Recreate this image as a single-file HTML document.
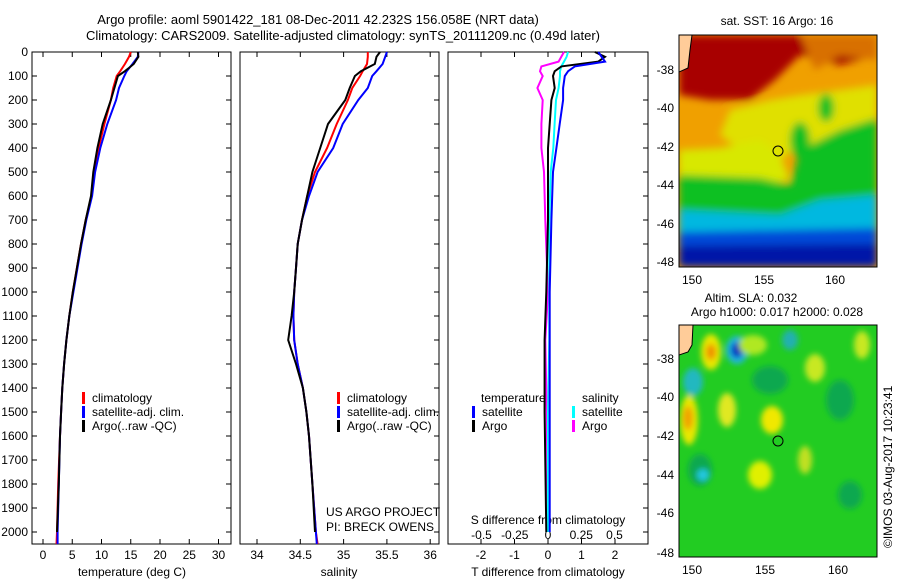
<!DOCTYPE html>
<html><head><meta charset="utf-8"><style>
body{margin:0;background:#fff}
svg text{font-family:"Liberation Sans",sans-serif;font-size:12px;fill:#000}
</style></head><body>
<svg id="s" width="900" height="580" viewBox="0 0 900 580" xmlns="http://www.w3.org/2000/svg">
<defs>
<filter id="bl" x="-20%" y="-20%" width="140%" height="140%"><feGaussianBlur stdDeviation="4"/></filter>
<filter id="bl2" x="-50%" y="-50%" width="200%" height="200%"><feGaussianBlur stdDeviation="3"/></filter>
<clipPath id="c1"><rect x="679" y="35" width="198" height="232"/></clipPath>
<clipPath id="c2"><rect x="679" y="325" width="198" height="232"/></clipPath>
</defs>
<text x="318" y="24" text-anchor="middle" style="font-size:13px">Argo profile: aoml 5901422_181 08-Dec-2011 42.232S 156.058E (NRT data)</text>
<text x="343" y="40" text-anchor="middle" style="font-size:13px">Climatology: CARS2009. Satellite-adjusted climatology: synTS_20111209.nc (0.49d later)</text>

<g>
<g clip-path="url(#c1)">
<rect x="679" y="35" width="198" height="232" fill="#f0a000"/>
<g filter="url(#bl)">
<polygon points="679,35 877,35 877,55 840,65 800,55 775,80 750,100 710,100 679,95" fill="#a80000"/>
<polygon points="800,35 877,35 877,60 840,55 815,70" fill="#d87000"/>
<polygon points="730,110 770,100 800,95 840,90 877,85 877,140 800,145 780,160 740,150 720,135" fill="#e0e000"/>
<polygon points="679,150 720,148 760,140 780,155 790,180 760,185 679,180" fill="#d8e800"/>
<polygon points="679,175 760,178 790,185 800,150 840,130 877,118 877,195 820,200 780,215 679,210" fill="#10c020"/>
<ellipse cx="800" cy="140" rx="10" ry="18" fill="#10c020"/>
<ellipse cx="826" cy="108" rx="8" ry="14" fill="#10c020"/>
<polygon points="679,210 780,215 820,200 877,195 877,232 679,232" fill="#00b8e0"/>
<polygon points="679,232 877,228 877,248 679,248" fill="#0048d8"/>
<polygon points="679,246 877,244 877,267 679,267" fill="#0018a8"/>
</g>
<polygon points="679,35 692,35 690,50 688,68 679,72" fill="#ffcc99" stroke="#000" stroke-width="1"/>
</g>
<rect x="679" y="35" width="198" height="232" fill="none" stroke="#000"/>
<circle cx="778" cy="151" r="5" fill="none" stroke="#000"/>
<text x="777" y="25" text-anchor="middle">sat. SST: 16 Argo: 16</text>
<text x="674" y="74" text-anchor="end">-38</text><text x="674" y="112" text-anchor="end">-40</text><text x="674" y="151" text-anchor="end">-42</text>
<text x="674" y="189" text-anchor="end">-44</text><text x="674" y="228" text-anchor="end">-46</text><text x="674" y="266" text-anchor="end">-48</text>
<text x="692" y="284" text-anchor="middle">150</text><text x="764" y="284" text-anchor="middle">155</text><text x="835" y="284" text-anchor="middle">160</text>
</g>

<g>
<g clip-path="url(#c2)">
<rect x="679" y="325" width="198" height="232" fill="#22cc22"/>
<g filter="url(#bl2)">
<ellipse cx="770" cy="380" rx="18" ry="14" fill="#10a850"/>
<ellipse cx="840" cy="400" rx="14" ry="20" fill="#10a850"/>
<ellipse cx="700" cy="470" rx="12" ry="16" fill="#10a850"/>
<ellipse cx="850" cy="495" rx="12" ry="14" fill="#10a850"/>
<ellipse cx="711" cy="352" rx="10" ry="18" fill="#e8e800"/>
<ellipse cx="711" cy="352" rx="5" ry="8" fill="#f09000"/>
<ellipse cx="737" cy="350" rx="11" ry="14" fill="#20b8e0"/>
<ellipse cx="737" cy="350" rx="6" ry="8" fill="#0030c0"/>
<ellipse cx="693" cy="382" rx="10" ry="14" fill="#20b8c0"/>
<ellipse cx="689" cy="420" rx="9" ry="25" fill="#e8e800"/>
<ellipse cx="688" cy="418" rx="5" ry="12" fill="#f0a000"/>
<ellipse cx="727" cy="410" rx="9" ry="17" fill="#e0e820"/>
<ellipse cx="772" cy="420" rx="11" ry="14" fill="#f0e800"/>
<ellipse cx="760" cy="475" rx="12" ry="14" fill="#e0f000"/>
<ellipse cx="805" cy="460" rx="7" ry="14" fill="#c0e020"/>
<ellipse cx="815" cy="368" rx="10" ry="14" fill="#c8e820"/>
<ellipse cx="862" cy="345" rx="8" ry="14" fill="#c8e820"/>
<ellipse cx="703" cy="475" rx="6" ry="6" fill="#20c8e0"/>
<ellipse cx="753" cy="345" rx="14" ry="10" fill="#b0e820"/>
<ellipse cx="790" cy="340" rx="8" ry="10" fill="#20b0b0"/>
</g>
<polygon points="679,325 693,325 692,345 688,352 679,355" fill="#ffcc99" stroke="#000"/>
</g>
<rect x="679" y="325" width="198" height="232" fill="none" stroke="#000"/>
<circle cx="778" cy="441" r="5" fill="none" stroke="#000"/>
<text x="751" y="302" text-anchor="middle">Altim. SLA: 0.032</text>
<text x="777" y="316" text-anchor="middle">Argo h1000: 0.017 h2000: 0.028</text>
<text x="674" y="363" text-anchor="end">-38</text><text x="674" y="401" text-anchor="end">-40</text><text x="674" y="440" text-anchor="end">-42</text>
<text x="674" y="479" text-anchor="end">-44</text><text x="674" y="517" text-anchor="end">-46</text><text x="674" y="557" text-anchor="end">-48</text>
<text x="692" y="574" text-anchor="middle">150</text><text x="765" y="574" text-anchor="middle">155</text><text x="838" y="574" text-anchor="middle">160</text>
</g>
<text transform="translate(892,548) rotate(-90)">©IMOS 03-Aug-2017 10:23:41</text>
<g id="plots"></g>
</svg>
<script>
const depths=[0,20,50,80,100,150,200,300,400,500,600,700,800,900,1000,1100,1200,1300,1400,1500,1600,1800,2000,2050];
const tClim=[15.0,14.7,14.0,13.2,12.6,12.0,11.6,10.5,9.5,8.7,8.3,7.3,6.5,5.8,5.1,4.5,4.0,3.6,3.3,3.1,2.9,2.6,2.4,2.3];
const tSat=[16.3,16.2,15.3,14.3,13.9,13.0,12.5,11.0,9.8,8.9,8.4,7.4,6.6,5.9,5.2,4.5,4.0,3.6,3.3,3.1,2.9,2.7,2.5,2.5];
const tArgo=[16.2,16.3,15.5,14.0,12.8,12.2,11.6,10.2,9.3,8.6,8.2,7.3,6.5,5.8,5.1,4.5,4.0,3.6,3.3,3.1,2.9,2.7,2.4];
const sClim=[35.28,35.28,35.27,35.22,35.19,35.1,35.05,34.92,34.81,34.67,34.58,34.52,34.47,34.45,34.43,34.42,34.43,34.47,34.53,34.57,34.6,34.64,34.68,34.7];
const sSat=[35.5,35.48,35.45,35.38,35.33,35.28,35.17,34.99,34.88,34.7,34.6,34.52,34.47,34.45,34.43,34.42,34.43,34.47,34.53,34.57,34.6,34.64,34.68,34.69];
const sArgo=[35.42,35.38,35.36,35.2,35.13,35.07,35.02,34.82,34.73,34.64,34.58,34.52,34.47,34.45,34.43,34.4,34.36,34.45,34.53,34.57,34.6,34.64,34.67];
const diffDepths=[0,20,40,60,80,100,150,200,300,400,500,700,1000,1200,1500,2000];
const tdSat=[1.5,1.6,1.7,0.8,0.6,0.5,0.45,0.45,0.35,0.25,0.15,0.1,0.05,0.05,0.05,0.05];
const tdArgo=[1.4,1.7,1.5,0.4,0.2,0.15,0.2,0.1,0.05,0,0,0,-0.05,-0.1,-0.1,-0.05];
const sdSat=[0.15,0.14,0.12,0.1,0.09,0.09,0.08,0.06,0.05,0.04,0.02,0.01,0.01,0.01,0,0];
const sdArgo=[0.12,0.1,0.08,-0.05,-0.06,-0.04,-0.08,-0.04,-0.05,-0.05,-0.03,-0.02,0,-0.02,-0.01,0];
const depthTicks=[0,100,200,300,400,500,600,700,800,900,1000,1100,1200,1300,1400,1500,1600,1700,1800,1900,2000];
const tTicks=[0,5,10,15,20,25,30];
const sTicks=[34,34.5,35,35.5,36];
const tdTicks=[-2,-1,0,1,2];
const sdTicks=[-0.5,-0.25,0,0.25,0.5];
const sdLabels=["-0.5","-0.25","0","0.25","0.5"];

const yD=d=>52+d*0.24;
const xT=t=>43+t*5.85;
const xS=s=>257+(s-34)*86.6;
const xTd=t=>548+t*33.5;
const xSd=s=>548+s*133;
const NS='http://www.w3.org/2000/svg';
const root=document.getElementById('plots');
function mk(tag,attrs,parent){const e=document.createElementNS(NS,tag);for(const k in attrs)e.setAttribute(k,attrs[k]);(parent||root).appendChild(e);return e;}
function txt(x,y,s,anchor,parent){const e=mk('text',{x:x,y:y,'text-anchor':anchor||'middle'},parent);e.textContent=s;return e;}
const TOP=52,BOT=544;
const panels=[[32,231],[240,439],[448,648]];
panels.forEach((p,i)=>{
  const r=mk('rect',{x:p[0],y:TOP,width:p[1]-p[0],height:BOT-TOP,fill:'none',stroke:'#000'});
  
  
  depthTicks.forEach(d=>{mk('line',{x1:p[1]-5,x2:p[1],y1:yD(d),y2:yD(d),stroke:'#000'});});
});
depthTicks.forEach(d=>{mk('line',{x1:32,x2:37,y1:yD(d),y2:yD(d),stroke:'#000'});txt(28,yD(d)+4,String(d),'end');});
function xticks(vals,fx,labels,ly){vals.forEach((v,i)=>{const x=fx(v);mk('line',{x1:x,x2:x,y1:BOT-5,y2:BOT,stroke:'#000'});mk('line',{x1:x,x2:x,y1:TOP,y2:TOP+5,stroke:'#000'});if(labels)txt(x,ly,labels[i]);});}
xticks(tTicks,xT,tTicks.map(String),559);
xticks(sTicks,xS,sTicks.map(String),559);
xticks(tdTicks,xTd,tdTicks.map(String),559);
sdTicks.forEach((v,i)=>txt(xSd(v),539,sdLabels[i]));
txt(132,576,'temperature (deg C)');
txt(339,576,'salinity');
txt(548,576,'T difference from climatology');
txt(548,524,'S difference from climatology');
txt(326,516,'US ARGO PROJECT','start');
txt(326,531,'PI: BRECK OWENS','start');
function line(vals,dep,fx,col,name){
  let d='';vals.forEach((v,i)=>{d+=(i?'L':'M')+fx(v).toFixed(1)+','+yD(dep[i]).toFixed(1);});
  const e=mk('path',{d:d,fill:'none',stroke:col,'stroke-width':2});
  
  
}
line(tClim,depths,xT,'#f00','temp-climatology-line');
line(tSat,depths,xT,'#00f','temp-satellite-line');
line(tArgo,depths,xT,'#000','temp-argo-line');
line(sClim,depths,xS,'#f00','sal-climatology-line');
line(sSat,depths,xS,'#00f','sal-satellite-line');
line(sArgo,depths,xS,'#000','sal-argo-line');
line(sdArgo,diffDepths,xSd,'#f0f','sdiff-argo-line');
line(sdSat,diffDepths,xSd,'#0ff','sdiff-satellite-line');
line(tdArgo,diffDepths,xTd,'#000','tdiff-argo-line');
line(tdSat,diffDepths,xTd,'#00f','tdiff-satellite-line');
function legend(x,y,col,label,name){
  const g=mk('g',{});
  
  
  mk('rect',{x:x,y:y-10,width:3,height:12,fill:col},g);
  txt(x+10,y,label,'start',g);
}
legend(82,402,'#f00','climatology','legend-climatology');
legend(82,416,'#00f','satellite-adj. clim.','legend-satellite-adj');
legend(82,430,'#000','Argo(..raw -QC)','legend-argo');
legend(337,402,'#f00','climatology','legend2-climatology');
legend(337,416,'#00f','satellite-adj. clim.','legend2-satellite-adj');
legend(337,430,'#000','Argo(..raw -QC)','legend2-argo');
txt(481,402,'temperature','start');
txt(582,402,'salinity','start');
legend(472,416,'#00f','satellite','legend-t-satellite');
legend(472,430,'#000','Argo','legend-t-argo');
legend(572,416,'#0ff','satellite','legend-s-satellite');
legend(572,430,'#f0f','Argo','legend-s-argo');
</script>
</body></html>
